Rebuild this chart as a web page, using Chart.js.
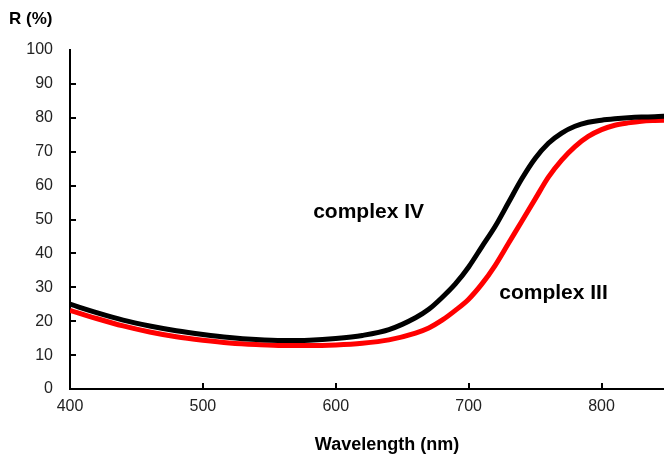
<!DOCTYPE html>
<html>
<head>
<meta charset="utf-8">
<script src="https://cdn.jsdelivr.net/npm/chart.js@4"></script>
<style>
  html, body { margin: 0; padding: 0; background: #fff; }
  #wrap { width: 664px; height: 457px; }
</style>
</head>
<body>
<div id="wrap"><canvas id="chart"></canvas></div>
<script>
// Wavelength (nm)
const wavelengths = [400, 420, 440, 460, 480, 500, 520, 540, 560, 580, 600, 620, 640, 660, 670, 680, 690, 700, 710, 720, 730, 740, 750, 760, 770, 780, 790, 800, 810, 820, 830, 840, 850];

// R (%) for complex IV (black)
const complexIV = [25, 22.5, 20.3, 18.6, 17.2, 16.1, 15.2, 14.6, 14.3, 14.4, 14.9, 15.8, 17.5, 21, 23.5, 27, 31, 36, 42, 48, 55, 62, 68, 72.5, 75.5, 77.5, 78.7, 79.3, 79.7, 80, 80.2, 80.3, 80.5];

// R (%) for complex III (red)
const complexIII = [23.2, 20.8, 18.6, 16.8, 15.4, 14.4, 13.6, 13.1, 12.8, 12.8, 13.0, 13.5, 14.5, 16.5, 18, 20.3, 23.2, 26.5, 31, 36.5, 43, 49.5, 56, 62.5, 67.5, 71.5, 74.5, 76.5, 77.8, 78.5, 79, 79.2, 79.3];

const xTicks = [400, 500, 600, 700, 800];
const yTicks = [0, 10, 20, 30, 40, 50, 60, 70, 80, 90, 100];

// curve labels, placed in data coordinates (left edge, middle)
const labelText = ['complex IV', 'complex III'];
const labelX = [583, 723];
const labelY = [52.2, 28.3];

const FONT = '"Liberation Sans", Arial, sans-serif';

// inward ticks, axis titles and curve labels
const decorations = {
  id: 'decorations',
  afterDraw(chart) {
    const ctx = chart.ctx;
    const xs = chart.scales.x;
    const ys = chart.scales.y;
    const area = chart.chartArea;
    ctx.save();
    ctx.strokeStyle = '#000';
    ctx.lineWidth = 2;
    ctx.beginPath();
    xTicks.slice(1).forEach(v => {
      const px = Math.round(xs.getPixelForValue(v));
      ctx.moveTo(px, area.bottom);
      ctx.lineTo(px, area.bottom - 6);
    });
    yTicks.slice(1, -1).forEach(v => {
      const py = Math.round(ys.getPixelForValue(v));
      ctx.moveTo(area.left, py);
      ctx.lineTo(area.left + 6, py);
    });
    ctx.stroke();

    ctx.fillStyle = '#000';
    ctx.font = 'bold 17px ' + FONT;
    ctx.textBaseline = 'middle';
    ctx.textAlign = 'left';
    ctx.fillText('R (%)', 9, 19);
    ctx.textAlign = 'center';
    ctx.font = 'bold 18px ' + FONT;
    ctx.fillText('Wavelength (nm)', 387, 445);

    ctx.font = 'bold 21px ' + FONT;
    ctx.textAlign = 'left';
    labelText.forEach((t, i) => {
      ctx.fillText(t, xs.getPixelForValue(labelX[i]), ys.getPixelForValue(labelY[i]));
    });
    ctx.restore();
  }
};

const ctx = document.getElementById('chart').getContext('2d');
new Chart(ctx, {
  type: 'line',
  data: {
    labels: wavelengths,
    datasets: [
      {
        label: 'complex IV',
        data: wavelengths.map((w, i) => ({ x: w, y: complexIV[i] })),
        borderColor: '#000',
        borderWidth: 5,
        pointRadius: 0,
        cubicInterpolationMode: 'monotone',
        order: 0
      },
      {
        label: 'complex III',
        data: wavelengths.map((w, i) => ({ x: w, y: complexIII[i] })),
        borderColor: '#ff0000',
        borderWidth: 5,
        pointRadius: 0,
        cubicInterpolationMode: 'monotone',
        order: 1
      }
    ]
  },
  options: {
    responsive: true,
    maintainAspectRatio: false,
    animation: false,
    layout: { padding: { top: 50, right: 0, bottom: 0, left: 0 } },
    scales: {
      x: {
        type: 'linear',
        min: 400,
        max: 847,
        afterFit: scale => { scale.height = 68; },
        afterBuildTicks: scale => { scale.ticks = xTicks.map(v => ({ value: v })); },
        border: { color: '#000', width: 2 },
        grid: { display: false, drawTicks: false },
        ticks: {
          padding: 8,
          color: '#222',
          font: { family: FONT, size: 16 }
        }
      },
      y: {
        min: 0,
        max: 100,
        afterFit: scale => { scale.width = 70; },
        afterBuildTicks: scale => { scale.ticks = yTicks.map(v => ({ value: v })); },
        border: { color: '#000', width: 2 },
        grid: { display: false, drawTicks: false },
        ticks: {
          padding: 17,
          color: '#222',
          font: { family: FONT, size: 16 }
        }
      }
    },
    plugins: {
      legend: { display: false },
      tooltip: { enabled: false }
    }
  },
  plugins: [decorations]
});
</script>
</body>
</html>
